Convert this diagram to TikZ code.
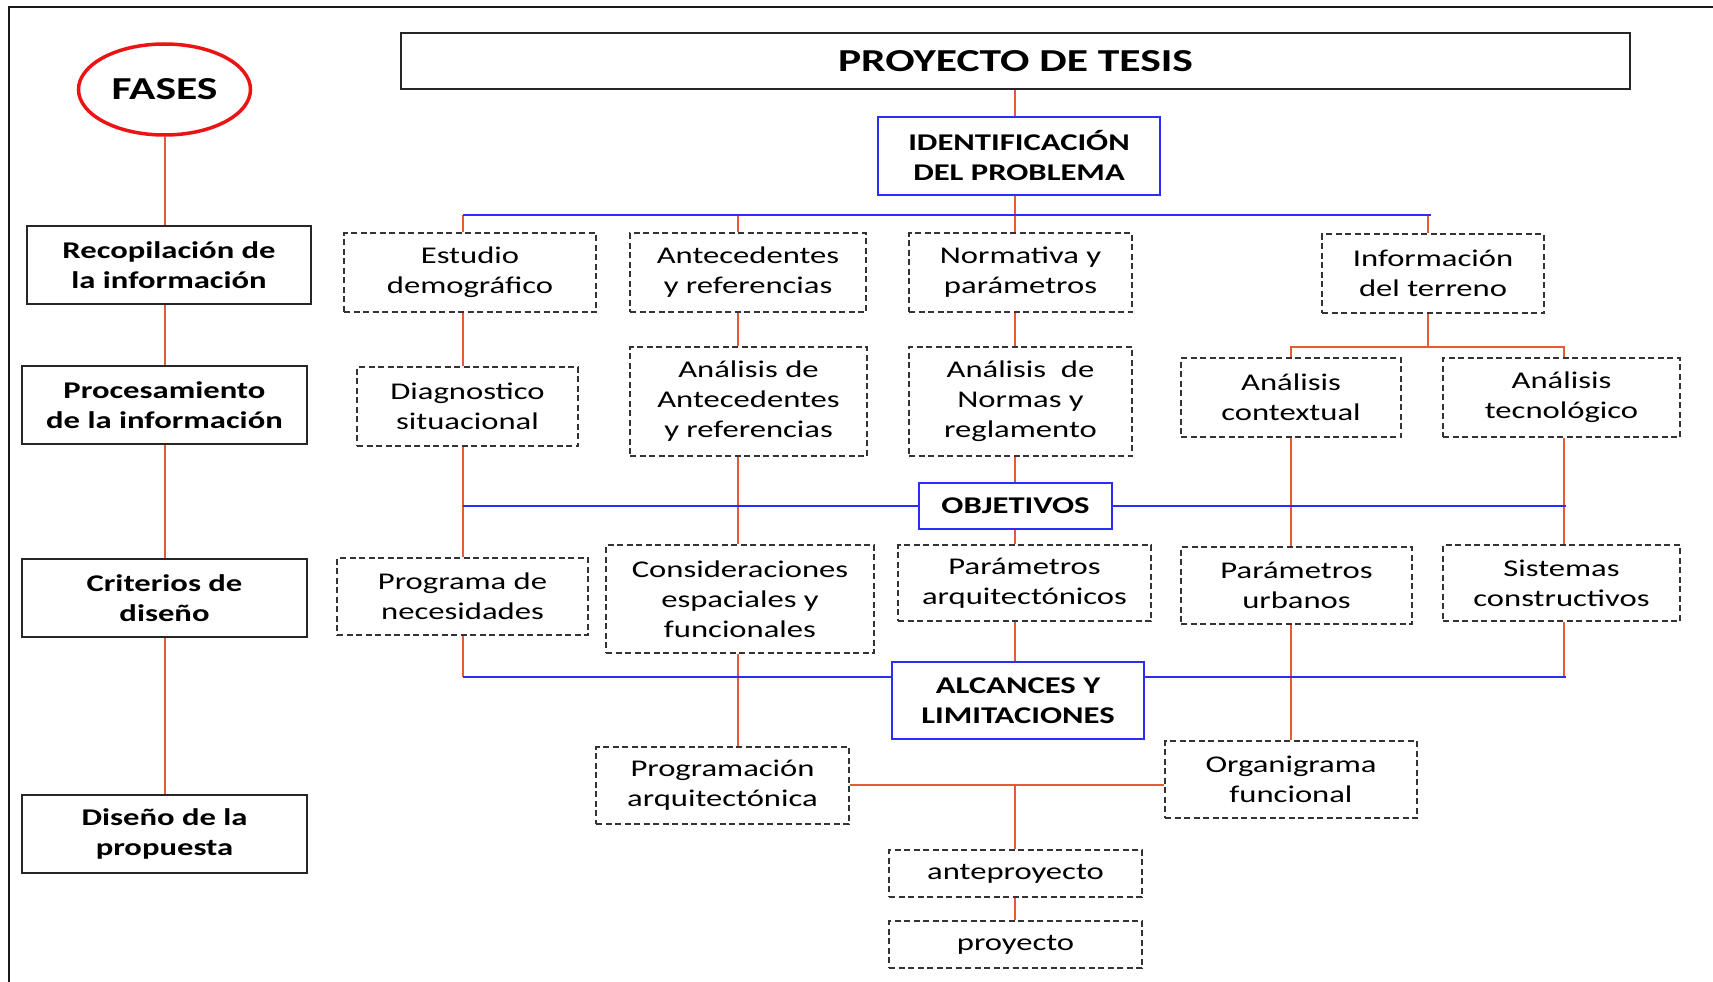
\documentclass[tikz,border=0pt]{standalone}
\usepackage{fontspec}
\usetikzlibrary{shapes.geometric}
\setmainfont{Carlito}[FakeStretch=1.36]
\definecolor{org}{RGB}{226,92,52}
\definecolor{blu}{RGB}{45,45,250}
\definecolor{fred}{RGB}{235,20,20}
\begin{document}
\begin{tikzpicture}[x=1pt,y=-1pt,
 base/.style={align=center, inner sep=0pt, font=\fontsize{24}{30}\selectfont},
 phase/.style={base, draw=black!85, line width=2pt, font=\fontsize{24}{30}\selectfont\bfseries},
 dbox/.style={base, draw=black!80, line width=1.6pt, dash pattern=on 6pt off 3.5pt},
 bbox/.style={base, draw=blu, line width=2pt, fill=white, font=\fontsize{24}{30}\selectfont\bfseries},
 oline/.style={draw=org, line width=1.5pt},
 bline/.style={draw=blu, line width=2.2pt},
 sz/.style 2 args={minimum width=#1pt, minimum height=#2pt},
]
\useasboundingbox (0,0) rectangle (1713,982);
% frame
\draw[line width=2pt, black!90] (9,982) -- (9,7) -- (1713,7);

% column / row helper coordinates
\coordinate (A) at (463,0);
\coordinate (B) at (738,0);
\coordinate (C) at (1015,0);
\coordinate (D) at (1291,0);
\coordinate (E) at (1564,0);
\coordinate (I) at (1428,0);
\coordinate (P) at (165,0);
\coordinate (L1) at (0,215);
\coordinate (L2) at (0,347);
\coordinate (L3) at (0,677);
\coordinate (L4) at (0,785);

% phases
\node[ellipse, draw=fred, line width=3.5pt, minimum width=172pt, minimum height=91pt,
      font=\fontsize{32}{36}\selectfont\bfseries, inner sep=0pt] (fases) at (164.5,89.5) {FASES};
\node[phase, sz={284}{78}] (rec)  at (169,265)   {Recopilación de\\la información};
\node[phase, sz={285}{78}] (proc) at (164.5,405) {Procesamiento\\de la información};
\node[phase, sz={285}{78}] (crit) at (164.5,598) {Criterios de\\diseño};
\node[phase, sz={285}{78}] (dis)  at (164.5,834) {Diseño de la\\propuesta};

% top
\node[base, draw=black!85, line width=2pt, sz={1229}{56}, font=\fontsize{32}{36}\selectfont\bfseries] (proy) at (1015.5,61) {PROYECTO DE TESIS};
\node[bbox, sz={282}{78}] (ident) at (1019,156) {IDENTIFICACIÓN\\DEL PROBLEMA};

% row 1
\node[dbox, sz={252}{79}] (est)  at (470,272.5)   {Estudio\\demográfico};
\node[dbox, sz={236}{79}] (ant)  at (748,272.5)   {Antecedentes\\y referencias};
\node[dbox, sz={223}{79}] (norm) at (1020.5,272.5){Normativa y\\parámetros};
\node[dbox, sz={222}{79}] (info) at (1433,273.5)  {Información\\del terreno};

% row 2
\node[dbox, sz={221}{79}]  (diag)  at (467.5,406.5) {Diagnostico\\situacional};
\node[dbox, sz={237}{109}] (aant)  at (748.5,401.5) {Análisis de\\Antecedentes\\y referencias};
\node[dbox, sz={223}{109}] (anorm) at (1020.5,401.5){Análisis~~de\\Normas y\\reglamento};
\node[dbox, sz={220}{79}]  (actx)  at (1291,397.5)  {Análisis\\contextual};
\node[dbox, sz={237}{79}]  (atec)  at (1561.5,397.5){Análisis\\tecnológico};

% objetivos
\node[bbox, sz={193}{46}] (obj) at (1015.5,506) {OBJETIVOS};

% row 3
\node[dbox, sz={251}{77}]  (prog) at (462.5,596.5) {Programa de\\necesidades};
\node[dbox, sz={268}{108}] (cons) at (740,599)     {Consideraciones\\espaciales y\\funcionales};
\node[dbox, sz={253}{76}]  (parq) at (1024.5,583)  {Parámetros\\arquitectónicos};
\node[dbox, sz={231}{77}]  (purb) at (1296.5,585.5){Parámetros\\urbanos};
\node[dbox, sz={237}{76}]  (sist) at (1561.5,583)  {Sistemas\\constructivos};

% alcances
\node[bbox, sz={252}{77}] (alc) at (1018,700.5) {ALCANCES Y\\LIMITACIONES};

% row 4
\node[dbox, sz={253}{77}] (prg)  at (722.5,785.5)  {Programación\\arquitectónica};
\node[dbox, sz={252}{77}] (org)  at (1291,779.5)   {Organigrama\\funcional};
\node[dbox, sz={253}{47}] (ante) at (1015.5,873.5) {anteproyecto};
\node[dbox, sz={253}{47}] (pry)  at (1015.5,944.5) {proyecto};

% phase connectors
\draw[oline] (P |- fases.south) -- (P |- rec.north);
\draw[oline] (P |- rec.south) -- (P |- proc.north);
\draw[oline] (P |- proc.south) -- (P |- crit.north);
\draw[oline] (P |- crit.south) -- (P |- dis.north);

% main orange connectors
\draw[oline] (C |- proy.south) -- (C |- ident.north);
\draw[oline] (C |- ident.south) -- (C |- L1);
\draw[oline] (A |- L1) -- (A |- est.north);
\draw[oline] (B |- L1) -- (B |- ant.north);
\draw[oline] (C |- L1) -- (C |- norm.north);
\draw[oline] (I |- L1) -- (I |- info.north);

\draw[oline] (A |- est.south) -- (A |- diag.north);
\draw[oline] (B |- ant.south) -- (B |- aant.north);
\draw[oline] (C |- norm.south) -- (C |- anorm.north);
\draw[oline] (I |- info.south) -- (I |- L2);
\draw[oline] (D |- actx.north) -- (D |- L2) -- (E |- L2) -- (E |- atec.north);

\draw[oline] (A |- diag.south) -- (A |- prog.north);
\draw[oline] (B |- aant.south) -- (B |- cons.north);
\draw[oline] (C |- anorm.south) -- (C |- obj.north);
\draw[oline] (C |- obj.south) -- (C |- parq.north);
\draw[oline] (D |- actx.south) -- (D |- purb.north);
\draw[oline] (E |- atec.south) -- (E |- sist.north);

\draw[oline] (A |- prog.south) -- (A |- L3);
\draw[oline] (B |- cons.south) -- (B |- prg.north);
\draw[oline] (C |- parq.south) -- (C |- alc.north);
\draw[oline] (D |- purb.south) -- (D |- org.north);
\draw[oline] (E |- sist.south) -- (E |- L3);

\draw[oline, line width=2.6pt] (prg.east |- L4) -- (org.west |- L4);
\draw[oline] (C |- L4) -- (C |- ante.north);
\draw[oline] (C |- ante.south) -- (C |- pry.north);

% blue lines
\draw[bline] (A |- L1) -- (1431,215);
\draw[bline] (A |- obj.west) -- (obj.west);
\draw[bline] (obj.east) -- (1566,506);
\draw[bline] (A |- L3) -- (alc.west |- L3);
\draw[bline] (alc.east |- L3) -- (1566,677);
\end{tikzpicture}
\end{document}
